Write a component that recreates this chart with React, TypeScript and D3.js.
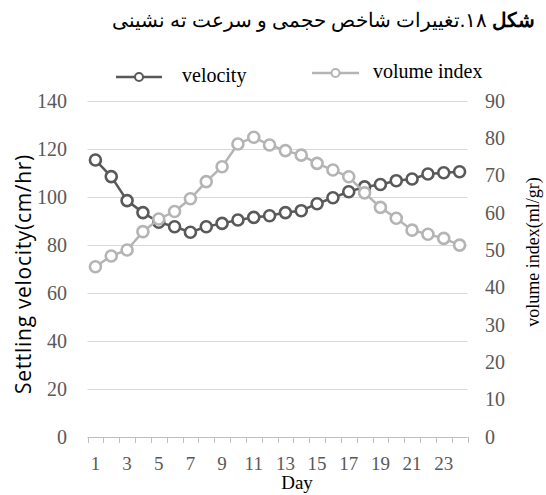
import React, {useRef, useEffect} from "react";
import * as d3 from "d3";

const days = d3.range(1, 25);
const velocity = [
  115.4, 108.5, 98.5, 93.5, 89.5, 87.6, 85.3, 87.6, 89, 90.4, 91.5, 92.2,
  93.5, 94.3, 97.2, 99.7, 102.2, 104.2, 105.2, 106.8, 107.5, 109.6, 110.1, 110.5,
];
const volumeIndex = [
  45.6, 48.5, 50.1, 55, 58.4, 60.4, 63.8, 68.4, 72.4, 78.5, 80.3, 78.2, 76.7,
  75.5, 73.3, 71.5, 69.7, 65.4, 61.5, 58.6, 55.4, 54.3, 53.2, 51.4,
];
const leftTicks = [0, 20, 40, 60, 80, 100, 120, 140];
const rightTicks = [0, 10, 20, 30, 40, 50, 60, 70, 80, 90];
const xTickLabels = days.filter((d) => d % 2 === 1);

const W = 546;
const H = 495;
const serif = "'Liberation Serif', 'Times New Roman', serif";
const DARK = "#595959";
const LIGHT = "#b4b4b4";

const App = () => {
  const ref = useRef<SVGSVGElement>(null);

  useEffect(() => {
    const svg = d3.select(ref.current);
    svg.selectAll("*").remove();

    const top = 101;
    const bottom = 437;
    const left = 87.5;
    const right = 467.5;

    const x = d3.scaleBand<number>().domain(days).range([left, right]);
    const cx = (d: number) => (x(d) as number) + x.bandwidth() / 2;
    const yL = d3.scaleLinear().domain([0, 140]).range([bottom, top]);
    const yR = d3.scaleLinear().domain([0, 90]).range([bottom, top]);

    // title
    const title = svg
      .append("text")
      .attr("x", 535)
      .attr("y", 27)
      .attr("direction", "rtl")
      .attr("text-anchor", "start")
      .attr("font-family", serif)
      .attr("font-size", 20)
      .attr("fill", "#000");
    title.append("tspan").attr("font-weight", "bold").text("شکل");
    title.append("tspan").text(" ۱۸.تغییرات شاخص حجمی و سرعت ته نشینی");

    // gridlines
    svg
      .append("g")
      .selectAll("line")
      .data(leftTicks.filter((t) => t > 0))
      .enter()
      .append("line")
      .attr("x1", left)
      .attr("x2", right)
      .attr("y1", (d) => Math.round(yL(d)) + 0.5)
      .attr("y2", (d) => Math.round(yL(d)) + 0.5)
      .attr("stroke", "#d9d9d9")
      .attr("stroke-width", 1);

    // x axis line + ticks
    const xa = svg.append("g").attr("stroke", "#bfbfbf").attr("stroke-width", 1);
    xa.append("line")
      .attr("x1", left)
      .attr("x2", right)
      .attr("y1", bottom + 0.5)
      .attr("y2", bottom + 0.5);
    xa.selectAll("line.tick")
      .data([...days.map((d) => x(d) as number), right])
      .enter()
      .append("line")
      .attr("class", "tick")
      .attr("x1", (d) => Math.round(d) + 0.5)
      .attr("x2", (d) => Math.round(d) + 0.5)
      .attr("y1", bottom)
      .attr("y2", bottom + 6);

    // x tick labels
    svg
      .append("g")
      .selectAll("text")
      .data(xTickLabels)
      .enter()
      .append("text")
      .attr("x", (d) => cx(d))
      .attr("y", 470)
      .attr("text-anchor", "middle")
      .attr("font-family", serif)
      .attr("font-size", 19)
      .attr("fill", DARK)
      .text((d) => d);

    svg
      .append("text")
      .attr("x", 297)
      .attr("y", 489)
      .attr("text-anchor", "middle")
      .attr("font-family", serif)
      .attr("font-size", 19)
      .attr("fill", "#000")
      .text("Day");

    // left ticks
    svg
      .append("g")
      .selectAll("text")
      .data(leftTicks)
      .enter()
      .append("text")
      .attr("x", 67)
      .attr("y", (d) => yL(d) + 6.5)
      .attr("text-anchor", "end")
      .attr("font-family", serif)
      .attr("font-size", 20)
      .attr("fill", DARK)
      .text((d) => d);

    // right ticks
    svg
      .append("g")
      .selectAll("text")
      .data(rightTicks)
      .enter()
      .append("text")
      .attr("x", 485)
      .attr("y", (d) => yR(d) + 6.5)
      .attr("text-anchor", "start")
      .attr("font-family", serif)
      .attr("font-size", 20)
      .attr("fill", DARK)
      .text((d) => d);

    // axis titles
    svg
      .append("text")
      .attr("transform", "translate(31,274) rotate(-90)")
      .attr("text-anchor", "middle")
      .attr("font-family", "'Open Sans', sans-serif")
      .attr("font-size", 21)
      .attr("letter-spacing", 0.7)
      .attr("fill", "#000")
      .text("Settling velocity(cm/hr)");

    svg
      .append("text")
      .attr("transform", "translate(539,252) rotate(-90)")
      .attr("text-anchor", "middle")
      .attr("font-family", serif)
      .attr("font-size", 18)
      .attr("fill", "#000")
      .text("volume index(ml/gr)");

    // series
    const drawSeries = (vals: number[], y: d3.ScaleLinear<number, number>, color: string) => {
      const g = svg.append("g");
      const line = d3
        .line<number>()
        .x((_, i) => cx(days[i]))
        .y((d) => y(d));
      g.append("path")
        .attr("d", line(vals))
        .attr("fill", "none")
        .attr("stroke", color)
        .attr("stroke-width", 2.5);
      g.selectAll("circle")
        .data(vals)
        .enter()
        .append("circle")
        .attr("cx", (_, i) => cx(days[i]))
        .attr("cy", (d) => y(d))
        .attr("r", 5.5)
        .attr("fill", "#fff")
        .attr("stroke", color)
        .attr("stroke-width", 2.6);
    };
    drawSeries(velocity, yL, DARK);
    drawSeries(volumeIndex, yR, LIGHT);

    // legend
    const legend = [
      {label: "velocity", color: DARK, x1: 116, x2: 162, y: 77, tx: 182, ty: 82},
      {label: "volume index", color: LIGHT, x1: 312, x2: 359, y: 73, tx: 373, ty: 78},
    ];
    const lg = svg.append("g");
    legend.forEach((l) => {
      lg.append("line")
        .attr("x1", l.x1)
        .attr("x2", l.x2)
        .attr("y1", l.y)
        .attr("y2", l.y)
        .attr("stroke", l.color)
        .attr("stroke-width", 2.5);
      lg.append("circle")
        .attr("cx", (l.x1 + l.x2) / 2)
        .attr("cy", l.y)
        .attr("r", 4)
        .attr("fill", "#fff")
        .attr("stroke", l.color)
        .attr("stroke-width", 2);
      lg.append("text")
        .attr("x", l.tx)
        .attr("y", l.ty)
        .attr("font-family", serif)
        .attr("font-size", 20)
        .attr("fill", "#000")
        .text(l.label);
    });
  }, []);

  return (
    <svg
      ref={ref}
      width={W}
      height={H}
      style={{position: "absolute", left: 0, top: 0, background: "#fff"}}
    ></svg>
  );
};

export default App;
